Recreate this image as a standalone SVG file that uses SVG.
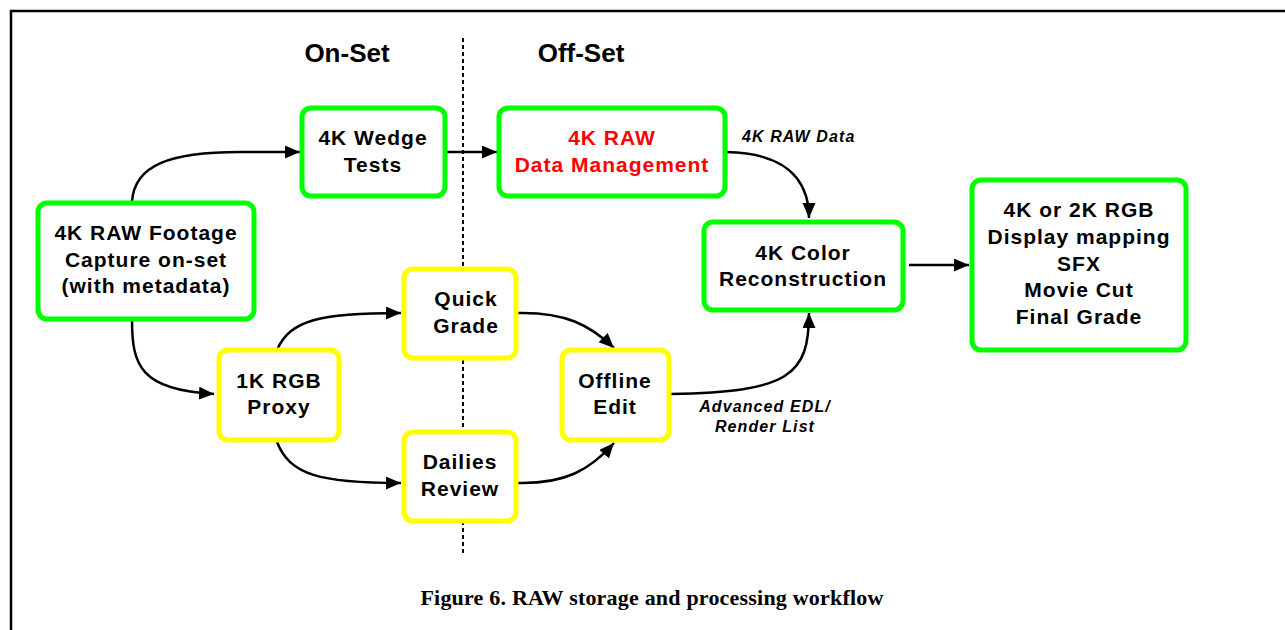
<svg xmlns="http://www.w3.org/2000/svg" width="1285" height="630" viewBox="0 0 1285 630">
<style>
.box{fill:#fff;stroke-width:5}
.g{stroke:#00FF00}
.y{stroke:#FFFF00}
.t{font-family:"Liberation Sans",Arial,sans-serif;font-weight:bold;font-size:21px;letter-spacing:1px;text-anchor:middle;fill:#000}
.red{fill:#FF0000}
.h{font-family:"Liberation Sans",Arial,sans-serif;font-weight:bold;font-size:26px;text-anchor:middle;fill:#000}
.lbl{font-family:"Liberation Sans",Arial,sans-serif;font-weight:bold;font-style:italic;font-size:16px;letter-spacing:1.1px;fill:#000}
.c{fill:none;stroke:#000;stroke-width:2.5}
.cap{font-family:"Liberation Serif","Times New Roman",serif;font-weight:bold;font-size:22px;letter-spacing:0.2px;text-anchor:middle;fill:#000}
</style>
<defs>
<marker id="ah" markerUnits="userSpaceOnUse" markerWidth="16" markerHeight="14" refX="15" refY="6.5" orient="auto">
<path d="M0,0 L15,6.5 L0,13 z" fill="#000"/>
</marker>
</defs>
<rect width="1285" height="630" fill="#fff"/>
<g id="frame">
<path d="M11,630 V11 H1285" fill="none" stroke="#000" stroke-width="2.5"/>
</g>
<g id="divider">
<line x1="463" y1="38" x2="463" y2="556" stroke="#000" stroke-width="2" stroke-dasharray="4,3"/>
</g>
<text class="h" x="347" y="62">On-Set</text>
<text class="h" x="581" y="62">Off-Set</text>

<g id="connectors">
<path class="c" marker-end="url(#ah)" d="M132,202 C134,165 170,152 240,152 L300,152"/>
<path class="c" marker-end="url(#ah)" d="M445,152 L497,152"/>
<path class="c" marker-end="url(#ah)" d="M726,152 C780,153 809,175 809,218"/>
<path class="c" marker-end="url(#ah)" d="M132,320 C132,365 140,390 214,394"/>
<path class="c" marker-end="url(#ah)" d="M277,350 C290,320 320,313 401,313"/>
<path class="c" marker-end="url(#ah)" d="M277,442 C290,475 320,483 401,483"/>
<path class="c" marker-end="url(#ah)" d="M518,313 C565,312 590,325 614,348"/>
<path class="c" marker-end="url(#ah)" d="M518,483 C565,484 590,470 614,443"/>
<path class="c" marker-end="url(#ah)" d="M671,394 C790,392 809,375 809,313"/>
<path class="c" marker-end="url(#ah)" d="M909,265 L969,265"/>
</g>

<g id="footage">
<rect class="box g" x="38" y="203" width="216" height="116" rx="9"/>
<text class="t" x="146" y="240">4K RAW Footage</text>
<text class="t" x="146" y="267">Capture on-set</text>
<text class="t" x="146" y="293">(with metadata)</text>
</g>
<g id="wedge">
<rect class="box g" x="302" y="108" width="143" height="88" rx="9"/>
<text class="t" x="373" y="145">4K Wedge</text>
<text class="t" x="373" y="172">Tests</text>
</g>
<g id="datamgmt">
<rect class="box g" x="499" y="108" width="226" height="88" rx="9"/>
<text class="t red" x="612" y="145">4K RAW</text>
<text class="t red" x="612" y="172">Data Management</text>
</g>
<g id="color">
<rect class="box g" x="704" y="222" width="199" height="88" rx="9"/>
<text class="t" x="803" y="260">4K Color</text>
<text class="t" x="803" y="286">Reconstruction</text>
</g>
<g id="final">
<rect class="box g" x="972" y="180" width="214" height="170" rx="9"/>
<text class="t" x="1079" y="217">4K or 2K RGB</text>
<text class="t" x="1079" y="244">Display mapping</text>
<text class="t" x="1079" y="271">SFX</text>
<text class="t" x="1079" y="297">Movie Cut</text>
<text class="t" x="1079" y="324">Final Grade</text>
</g>
<g id="quick">
<rect class="box y" x="404" y="269" width="112" height="89" rx="9"/>
<text class="t" x="466" y="306">Quick</text>
<text class="t" x="466" y="333">Grade</text>
</g>
<g id="proxy">
<rect class="box y" x="219" y="350" width="120" height="90" rx="9"/>
<text class="t" x="279" y="388">1K RGB</text>
<text class="t" x="279" y="414">Proxy</text>
</g>
<g id="dailies">
<rect class="box y" x="404" y="432" width="112" height="89" rx="9"/>
<text class="t" x="460" y="469">Dailies</text>
<text class="t" x="460" y="496">Review</text>
</g>
<g id="offline">
<rect class="box y" x="562" y="350" width="107" height="90" rx="9"/>
<text class="t" x="615" y="388">Offline</text>
<text class="t" x="615" y="414">Edit</text>
</g>

<g id="labels">
<text class="lbl" x="742" y="142">4K RAW Data</text>
<text class="lbl" x="765" y="412" text-anchor="middle">Advanced EDL/</text>
<text class="lbl" x="765" y="432" text-anchor="middle">Render List</text>
</g>
<text class="cap" x="652" y="605">Figure 6. RAW storage and processing workflow</text>
</svg>
